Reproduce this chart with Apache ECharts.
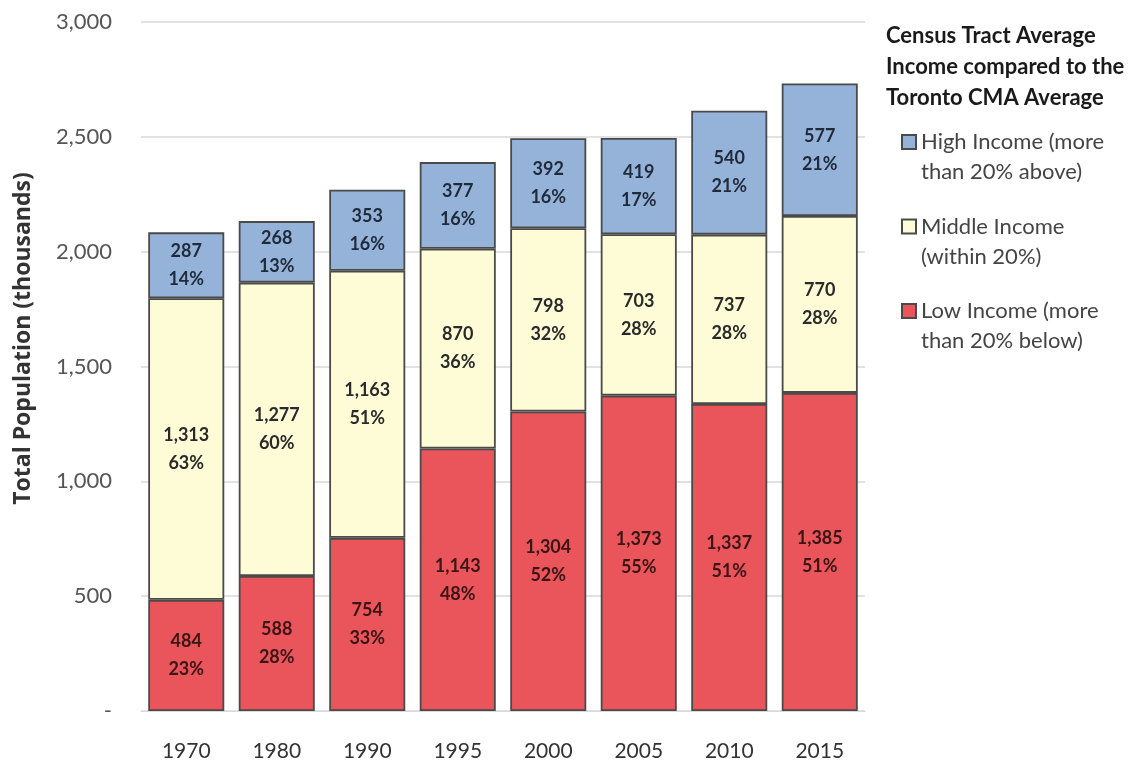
<!DOCTYPE html>
<html>
<head>
<meta charset="utf-8">
<script src="https://cdn.jsdelivr.net/npm/echarts@6/dist/echarts.min.js"></script>
<style>html,body{margin:0;padding:0;background:#fff}#chart{width:1135px;height:768px}</style>
</head>
<body>
<div id="chart"></div>
<script>
const years = ['1970','1980','1990','1995','2000','2005','2010','2015'];
const lowValues = [484,588,754,1143,1304,1373,1337,1385];
const midValues = [1313,1277,1163,870,798,703,737,770];
const highValues = [287,268,353,377,392,419,540,577];
const lowPct = [23,28,33,48,52,55,51,51];
const midPct = [63,60,51,36,32,28,28,28];
const highPct = [14,13,16,16,16,17,21,21];
const seriesNames = ['High Income (more\nthan 20% above)','Middle Income\n(within 20%)','Low Income (more\nthan 20% below)'];
const legendTitle = 'Census Tract Average\nIncome compared to the\nToronto CMA Average';
const yTicks = {min:0,max:3000,interval:500};

const FONT = 'Lato, "Open Sans", sans-serif';
const fmt = v => v.toLocaleString('en-US');

function mkSeries(name, vals, pcts, color, labelColor){
  return {
    name, type:'bar', stack:'total', barCategoryGap:'16%',
    data: vals,
    itemStyle:{color, borderColor:'#4a4a4a', borderWidth:1.8},
    label:{
      show:true, position:'inside', fontFamily:FONT, fontWeight:'bold', fontSize:18,
      lineHeight:28, color:labelColor,
      formatter: p => fmt(vals[p.dataIndex]) + '\n' + pcts[p.dataIndex] + '%'
    },
    emphasis:{disabled:true}
  };
}

const chart = echarts.init(document.getElementById('chart'));
chart.setOption({
  backgroundColor:'#fff',
  animation:false,
  title:{
    text: legendTitle, left:881, top:15,
    textStyle:{fontFamily:FONT, fontWeight:'bold', fontSize:22, lineHeight:31, color:'#1a1a1a'}
  },
  legend:{
    orient:'vertical', left:896, top:92,
    data:[seriesNames[0],seriesNames[1],seriesNames[2]],
    itemWidth:14, itemHeight:14, itemGap:-5.5, icon:'rect',
    formatter: name => ' \n' + name,
    textStyle:{fontFamily:FONT, fontSize:22, lineHeight:30, color:'#444'},
    selectedMode:false
  },
  grid:{left:141, right:270, top:22, bottom:57},
  xAxis:{
    type:'category', data:years,
    axisLine:{show:true, lineStyle:{color:'#d9d9d9'}},
    axisTick:{show:false},
    axisLabel:{fontFamily:FONT, fontSize:21, color:'#333', margin:30}
  },
  yAxis:{
    type:'value', min:yTicks.min, max:yTicks.max, interval:yTicks.interval,
    name:'Total Population (thousands)', nameLocation:'middle', nameGap:106,
    nameTextStyle:{fontFamily:'"Open Sans", Lato, sans-serif', fontWeight:'bold', fontSize:23, color:'#333', padding:[0,0,0,56]},
    axisLine:{show:false}, axisTick:{show:false},
    splitLine:{lineStyle:{color:'#d9d9d9', width:1.5}},
    axisLabel:{fontFamily:FONT, fontSize:22, color:'#555', margin:29,
      formatter: v => v === 0 ? '-' : fmt(v)}
  },
  series:[
    mkSeries(seriesNames[2], lowValues, lowPct, '#e9555a', '#3a1515'),
    mkSeries(seriesNames[1], midValues, midPct, '#fdfcd7', '#2a2a2a'),
    mkSeries(seriesNames[0], highValues, highPct, '#95b3d9', '#1f2a3a')
  ]
});
</script>
</body>
</html>
